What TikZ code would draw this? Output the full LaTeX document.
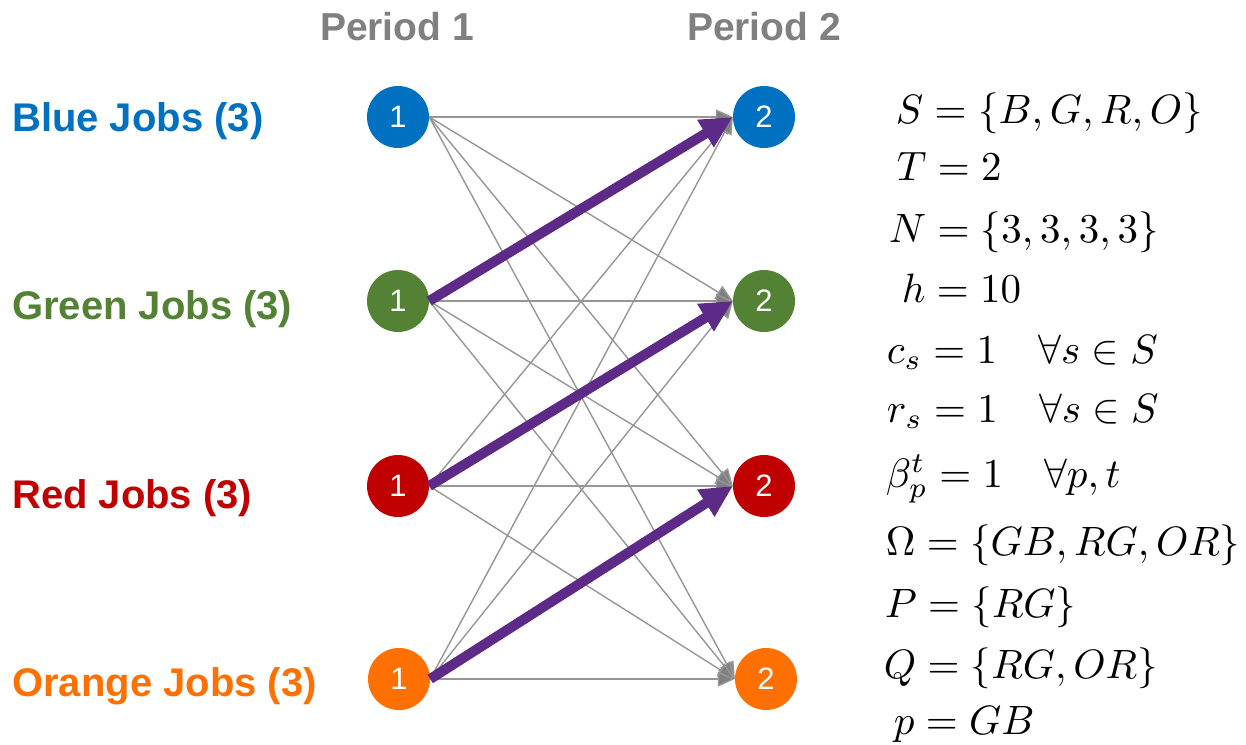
\documentclass[tikz,border=0pt]{standalone}
\usepackage{fontspec}
\newfontfamily\arialb{Liberation Sans}
\usetikzlibrary{arrows.meta}
\definecolor{cblue}{RGB}{0,112,192}
\definecolor{cgreen}{RGB}{84,130,53}
\definecolor{cred}{RGB}{192,0,0}
\definecolor{corange}{RGB}{255,112,0}
\definecolor{cgray}{RGB}{128,128,128}
\definecolor{clgray}{RGB}{150,150,150}
\definecolor{cpurple}{RGB}{93,43,135}
\tikzset{
  jobnode/.style={circle, minimum size=62pt, inner sep=0pt, text=white, font=\arialb\fontsize{31}{33}\selectfont},
  joblabel/.style={anchor=base west, inner sep=0pt, font=\arialb\bfseries\fontsize{40}{42}\selectfont},
  periodlabel/.style={anchor=base, inner sep=0pt, text=cgray, font=\arialb\bfseries\fontsize{39}{41}\selectfont},
  thinarc/.style={draw=clgray, line width=1.4pt, -{Triangle[length=17pt,width=15pt,fill=cgray]}},
  usedarc/.style={draw=cpurple, line width=10pt, -{Triangle[length=32pt,width=30pt]}},
  mathline/.style={anchor=base west, inner sep=0pt, scale=4.1}
}
\begin{document}
\begin{tikzpicture}[x=1pt,y=-1pt]
\useasboundingbox (0,0) rectangle (1246,744);
% period labels
\node[periodlabel] (p1) at (397,40) {Period 1};
\node[periodlabel] (p2) at (764,40) {Period 2};
% job labels
\node[joblabel, text=cblue] (lb) at (12,131) {Blue Jobs (3)};
\node[joblabel, text=cgreen] (lg) at (12,319) {Green Jobs (3)};
\node[joblabel, text=cred] (lr) at (12,508) {Red Jobs (3)};
\node[joblabel, text=corange] (lo) at (12,696) {Orange Jobs (3)};
% nodes
\node[jobnode, fill=cblue] (b1) at (398,117) {1};
\node[jobnode, fill=cgreen] (g1) at (398,301) {1};
\node[jobnode, fill=cred] (r1) at (398,486) {1};
\node[jobnode, fill=corange] (o1) at (399,679) {1};
\node[jobnode, fill=cblue] (b2) at (764,117) {2};
\node[jobnode, fill=cgreen] (g2) at (764,301) {2};
\node[jobnode, fill=cred] (r2) at (764,486) {2};
\node[jobnode, fill=corange] (o2) at (766,679) {2};
% thin arcs
\foreach \s in {b1,g1,r1,o1}{
  \foreach \t in {b2,g2,r2,o2}{
    \draw[thinarc] (\s.east) -- (\t.west);
  }
}
% used arcs
\draw[usedarc] (g1.east) -- (b2.west);
\draw[usedarc] (r1.east) -- (g2.west);
\draw[usedarc] (o1.east) -- (r2.west);
% math
\node[mathline] (m1) at (895,123) {$S=\{B,G,R,O\}$};
\node[mathline] (m2) at (896,180) {$T=2$};
\node[mathline] (m3) at (888,242) {$N=\{3,3,3,3\}$};
\node[mathline] (m4) at (901,302) {$h=10$};
\node[mathline] (m5) at (886,363) {$c_s=1\quad\forall s\in S$};
\node[mathline] (m6) at (886,422) {$r_s=1\quad\forall s\in S$};
\node[mathline] (m7) at (885,487) {$\beta_p^t=1\quad\forall p,t$};
\node[mathline] (m8) at (885,555) {$\Omega=\{GB,RG,OR\}$};
\node[mathline] (m9) at (884,617) {$P=\{RG\}$};
\node[mathline] (m10) at (883,678) {$Q=\{RG,OR\}$};
\node[mathline] (m11) at (893,734) {$p=GB$};
\end{tikzpicture}
\end{document}
